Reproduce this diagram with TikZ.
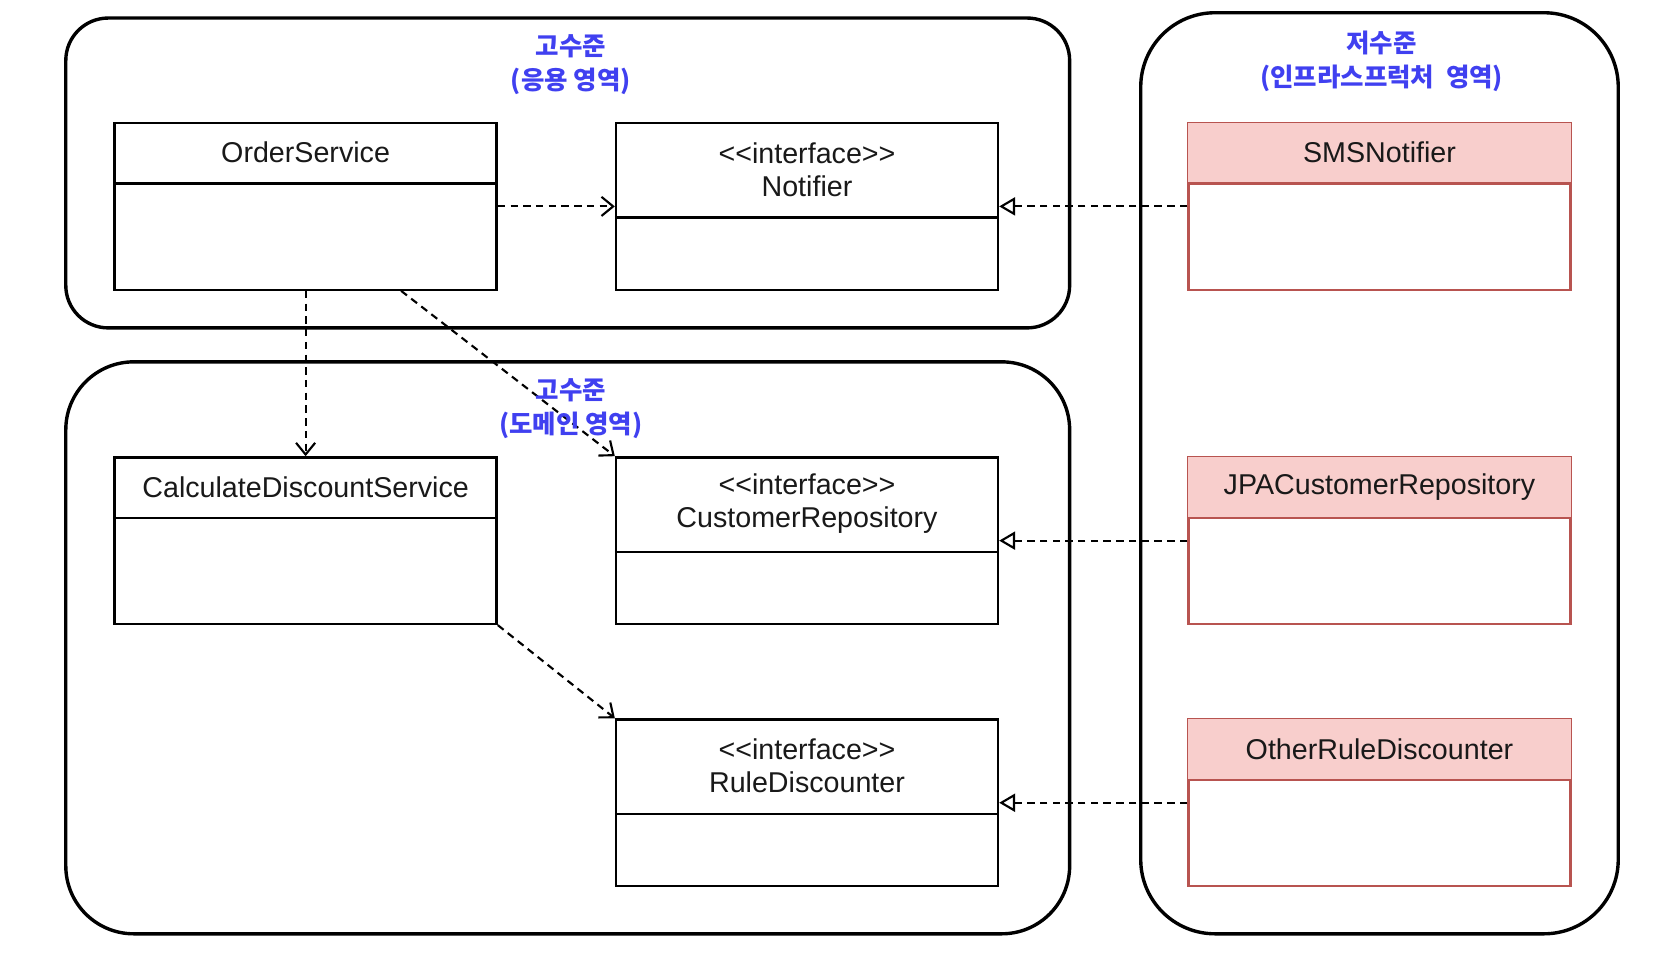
\documentclass[tikz,border=0pt]{standalone}
\usepackage{fontspec}
\setmainfont{Liberation Sans}
\newfontfamily\kr{Noto Sans CJK KR}
\usetikzlibrary{arrows.meta}
\definecolor{lvlblue}{RGB}{64,64,240}
\definecolor{pinkfill}{HTML}{F8CECC}
\definecolor{implred}{HTML}{B85450}
\begin{document}
\begin{tikzpicture}[x=0.5pt,y=-0.5pt]
\useasboundingbox (0,0) rectangle (1570,903);
\tikzset{
 region/.style={draw=black, line width=1.6pt, rectangle, inner sep=0pt},
 cls/.style={draw=black, line width=1.1pt, fill=white, minimum width=180pt, minimum height=78.5pt, inner sep=0pt},
 impl/.style={cls, draw=implred},
 sepline/.style={line width=1.1pt, draw=black},
 ttl/.style={font=\fontsize{13.5pt}{15.5pt}\selectfont, text=black!90, align=center, inner sep=0pt},
 lvl/.style={font=\kr\bfseries\fontsize{12pt}{16pt}\selectfont, text=lvlblue, align=center, inner sep=0pt},
 dep/.style={dash pattern=on 3.5pt off 2.5pt, line width=1pt, -{Straight Barb[length=5.5pt,width=9pt]}},
 real/.style={dash pattern=on 3.5pt off 2.5pt, line width=1pt, -{Triangle[open,length=7.5pt,width=8.5pt,fill=white]}},
}
% regions
\node[region, minimum width=473pt, minimum height=146pt, rounded corners=20pt] (app) at (535,163) {};
\node[region, minimum width=473pt, minimum height=269.5pt, rounded corners=32pt] (dom) at (535,610.5) {};
\node[region, minimum width=225pt, minimum height=434pt, rounded corners=35pt] (inf) at (1300,446) {};

% plain classes
\node[cls] (os) at (288,194.5) {};
\draw[sepline] ([yshift=-29pt]os.north west) -- ([yshift=-29pt]os.north east);
\node[ttl] (osT) at ([yshift=-14.5pt]os.north) {OrderService};

\node[cls] (cds) at (288,509.5) {};
\draw[sepline] ([yshift=-29pt]cds.north west) -- ([yshift=-29pt]cds.north east);
\node[ttl] (cdsT) at ([yshift=-14.5pt]cds.north) {CalculateDiscountService};

% interfaces
\node[cls] (nt) at (760.5,194.5) {};
\draw[sepline] ([yshift=-45pt]nt.north west) -- ([yshift=-45pt]nt.north east);
\node[ttl] (ntT) at ([yshift=-22.5pt]nt.north) {<\kern0pt<interface>\kern0pt>\\Notifier};

\node[cls] (cr) at (760.5,509.5) {};
\draw[sepline] ([yshift=-45pt]cr.north west) -- ([yshift=-45pt]cr.north east);
\node[ttl] (crT) at ([yshift=-22.5pt]cr.north) {<\kern0pt<interface>\kern0pt>\\CustomerRepository};

\node[cls] (rd) at (760.5,756.5) {};
\draw[sepline] ([yshift=-45pt]rd.north west) -- ([yshift=-45pt]rd.north east);
\node[ttl] (rdT) at ([yshift=-22.5pt]rd.north) {<\kern0pt<interface>\kern0pt>\\RuleDiscounter};

% implementations
\foreach \n/\yy/\t in {sms/194.5/SMSNotifier, jpa/509.5/JPACustomerRepository, ord/756.5/OtherRuleDiscounter}{
  \node[impl] (\n) at (1300,\yy) {};
  \fill[pinkfill] ([shift={(0.55pt,-0.55pt)}]\n.north west) rectangle ([shift={(-0.55pt,-29pt)}]\n.north east);
  \draw[line width=1.1pt, implred] ([yshift=-29pt]\n.north west) -- ([yshift=-29pt]\n.north east);
  \node[ttl] (\n T) at ([yshift=-14.5pt]\n.north) {\t};
}

% connectors
\draw[dep] (os.east) -- (nt.west);
\draw[real] (sms.west) -- (nt.east);
\draw[dep] (os.south) -- (cds.north);
\draw[dep] ([xshift=45pt]os.south) -- (cr.north west);
\draw[dep] (cds.south east) -- (rd.north west);
\draw[real] (jpa.west) -- (cr.east);
\draw[real] (ord.west) -- (rd.east);

% level labels
\node[lvl] (appL) at (538,61) {고수준\\(응용 영역)};
\node[lvl] (domL) at (538,385.5) {고수준\\(도메인 영역)};
\node[lvl] (infL) at (1302,57.5) {저수준\\(인프라스프럭처~~영역)};
\end{tikzpicture}
\end{document}
